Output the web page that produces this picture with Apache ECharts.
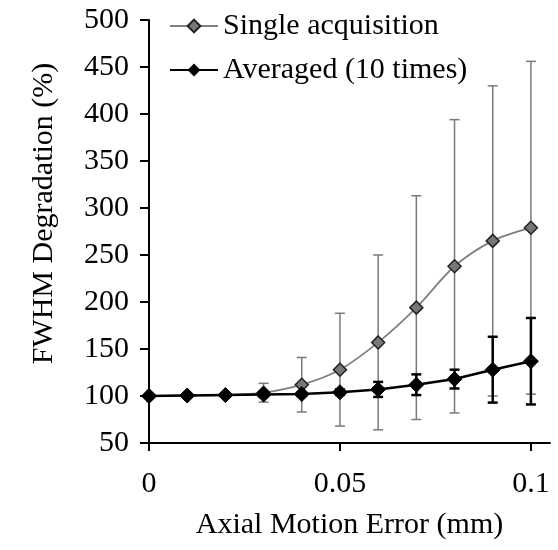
<!DOCTYPE html>
<html>
<head>
    <meta charset="UTF-8">
    <title>FWHM Degradation</title>
    <script src="https://cdn.jsdelivr.net/npm/echarts@6/dist/echarts.min.js"></script>
</head>
<body style="margin:0">
    <div id="main" style="width:558px;height:550px"></div>
    <script>
        // axial motion error (mm)
        var xValues = [0, 0.01, 0.02, 0.03, 0.04, 0.05, 0.06, 0.07, 0.08, 0.09, 0.1];
        var singleMean = [100, 100.5, 101, 103.5, 112, 128, 157, 194, 238, 265, 279];
        var singleErr = [0, 1, 2, 10, 29, 60, 93, 119, 156, 165, 177];
        var avgMean = [100, 100.5, 101, 101.5, 102, 104, 107, 112, 118, 128, 137];
        var avgErr = [0, 0.5, 1, 2, 2, 3, 8, 11, 10, 35, 46];
        var xTicks = [0, 0.05, 0.1];

        var font = '"Liberation Serif", "Times New Roman", serif';

        function pairs(means) {
            return xValues.map(function (x, i) { return [x, means[i]]; });
        }
        function bars(means, errs) {
            return xValues.map(function (x, i) { return [x, means[i] - errs[i], means[i] + errs[i]]; });
        }
        function errorBar(color, width, cap) {
            return function (params, api) {
                var x = api.value(0);
                var lo = api.coord([x, api.value(1)]);
                var hi = api.coord([x, api.value(2)]);
                var st = {stroke: color, lineWidth: width};
                return {
                    type: 'group',
                    children: [
                        {type: 'line', shape: {x1: lo[0], y1: lo[1], x2: hi[0], y2: hi[1]}, style: st},
                        {type: 'line', shape: {x1: hi[0] - cap, y1: hi[1], x2: hi[0] + cap, y2: hi[1]}, style: st},
                        {type: 'line', shape: {x1: lo[0] - cap, y1: lo[1], x2: lo[0] + cap, y2: lo[1]}, style: st}
                    ]
                };
            };
        }

        var app = echarts.init(document.getElementById('main'));
        var option = {
            animation: false,
            grid: {left: 149, right: 8, top: 20, bottom: 107},
            legend: {
                orient: 'vertical',
                left: 164,
                top: 6,
                itemWidth: 48,
                itemHeight: 16,
                itemGap: 14,
                data: ['Single acquisition', 'Averaged (10 times)'],
                textStyle: {fontFamily: font, fontSize: 30, color: '#000'}
            },
            xAxis: {
                type: 'value',
                min: 0,
                max: 0.105,
                interval: 0.05,
                name: 'Axial Motion Error (mm)',
                nameLocation: 'middle',
                nameGap: 67,
                nameTextStyle: {fontFamily: font, fontSize: 30, color: '#000'},
                axisLine: {onZero: false, lineStyle: {color: '#000', width: 2}},
                axisTick: {length: 8, lineStyle: {color: '#000', width: 2}, customValues: xTicks},
                axisLabel: {fontFamily: font, fontSize: 30, color: '#000', margin: 26, customValues: xTicks},
                splitLine: {show: false}
            },
            yAxis: {
                type: 'value',
                min: 50,
                max: 500,
                interval: 50,
                name: 'FWHM Degradation (%)',
                nameLocation: 'middle',
                nameGap: 90,
                nameTextStyle: {fontFamily: font, fontSize: 30, color: '#000', padding: [0, 0, 0, 36]},
                axisLine: {show: true, lineStyle: {color: '#000', width: 2}},
                axisTick: {length: 9, lineStyle: {color: '#000', width: 2}},
                axisLabel: {fontFamily: font, fontSize: 30, color: '#000', margin: 20},
                splitLine: {show: false}
            },
            series: [
                {
                    type: 'custom',
                    renderItem: errorBar('#7a7a7a', 1.5, 5),
                    data: bars(singleMean, singleErr),
                    z: 1
                },
                {
                    name: 'Single acquisition',
                    type: 'line',
                    smooth: 0.3,
                    symbol: 'diamond',
                    symbolSize: 13,
                    data: pairs(singleMean),
                    lineStyle: {color: '#808080', width: 1.8},
                    itemStyle: {color: '#777', borderColor: '#222', borderWidth: 1.5},
                    z: 2
                },
                {
                    type: 'custom',
                    renderItem: errorBar('#000', 2.5, 5),
                    data: bars(avgMean, avgErr),
                    z: 3
                },
                {
                    name: 'Averaged (10 times)',
                    type: 'line',
                    symbol: 'diamond',
                    symbolSize: 15,
                    data: pairs(avgMean),
                    lineStyle: {color: '#000', width: 2.5},
                    itemStyle: {color: '#000', borderColor: '#000'},
                    z: 4
                }
            ]
        };
        app.setOption(option);
    </script>
</body>
</html>
